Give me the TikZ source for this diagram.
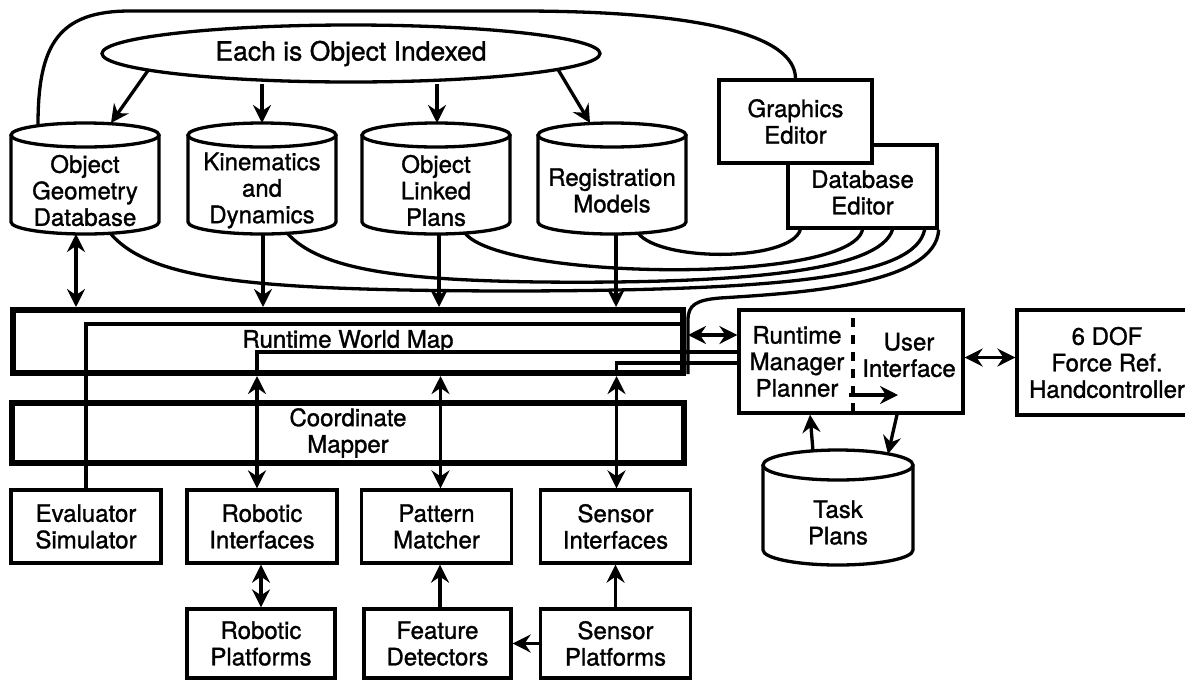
\documentclass[tikz,border=0pt]{standalone}
\usepackage{fontspec}
\setmainfont[FakeBold=1.2,AutoFakeBold=1.2]{TeX Gyre Heros}
\usetikzlibrary{arrows.meta,calc,shapes.geometric}
\newcommand\lbl{\fontsize{24}{26.5}\selectfont\bfseries}
\newcommand\lblbig{\fontsize{26.5}{29}\selectfont\bfseries}
\begin{document}
\begin{tikzpicture}[x=1pt,y=-1pt,
  >={Stealth[length=18pt,width=18pt,inset=6pt]},
  ln/.style={line width=3.3pt},
  arr/.style={ln,->},
  dbl/.style={ln,<->},
  txt/.style={inner sep=0pt,outer sep=0pt,align=center,font=\lbl},
  cyltxt/.style={txt,minimum width=148pt,minimum height=87pt},
  box/.style={draw,line width=3.3pt,inner sep=0pt,align=center,font=\lbl},
  heavybox/.style={draw,line width=6pt,inner sep=0pt,align=center,font=\lbl}]

\clip (0,0) rectangle (1185,681);

% ---- databases (text bodies; outlines drawn below) ----
\node[cyltxt] (ogd) at (85,190.5) {Object\\Geometry\\Database};
\node[cyltxt] (kd)  at (262,190.5) {Kinematics\\and\\Dynamics};
\node[cyltxt] (olp) at (436,190.5) {Object\\Linked\\Plans};
\node[cyltxt] (rm)  at (612,190.5) {Registration\\Models};
\node[cyltxt,minimum width=150pt,minimum height=85pt] (tp) at (838,522.5) {Task\\Plans};

\foreach \n/\rx/\ry in {ogd/74/12,kd/74/12,olp/74/12,rm/74/12,tp/75/15}{
  \draw[ln] ($(\n.north west)+(0,-\ry)$) -- ($(\n.south west)+(0,-\ry)$)
     arc[start angle=180,end angle=0,x radius=\rx,y radius=\ry]
     -- ($(\n.north east)+(0,-\ry)$);
  \draw[ln] ($(\n.north)+(0,-\ry)$) ellipse[x radius=\rx,y radius=\ry];
}

% ---- index ellipse ----
\node[ellipse,draw,ln,minimum width=498pt,minimum height=57pt,inner sep=0pt,
      font=\lblbig] (idx) at (351,53.5) {Each is Object Indexed};

% ---- editors ----
\node[box,minimum width=149pt,minimum height=83pt,
      label={[txt,yshift=-6pt]center:Database\\Editor}] (dbe) at (862.5,186.5) {};
\node[box,fill=white,minimum width=153pt,minimum height=83pt] (ge) at (795.5,121.5) {Graphics\\Editor};

% ---- central blocks ----
\node[heavybox,minimum width=670pt,minimum height=63pt] (rwm) at (348,341.5) {Runtime World Map};
\node[heavybox,minimum width=672pt,minimum height=60pt] (cm) at (348,433) {Coordinate\\Mapper};

\node[box,minimum width=150pt,minimum height=73pt] (ev) at (86,526.5) {Evaluator\\Simulator};
\node[box,minimum width=150pt,minimum height=73pt] (ri) at (262,526.5) {Robotic\\Interfaces};
\node[box,minimum width=150pt,minimum height=73pt] (pm) at (436.5,526.5) {Pattern\\Matcher};
\node[box,minimum width=150pt,minimum height=73pt] (si) at (615.5,526.5) {Sensor\\Interfaces};

\node[box,minimum width=148pt,minimum height=69pt] (rp) at (261,643.5) {Robotic\\Platforms};
\node[box,minimum width=147pt,minimum height=69pt] (fd) at (437.5,643.5) {Feature\\Detectors};
\node[box,minimum width=150pt,minimum height=69pt] (sp) at (615.5,643.5) {Sensor\\Platforms};

% ---- manager / user interface ----
\node[box,minimum width=224pt,minimum height=103pt] (rmp) at (851,361.5) {};
\node[txt] (rmtxt) at (797,361.5) {Runtime\\Manager\\Planner};
\node[txt] (uitxt) at (909,355) {User\\Interface};
\node[box,minimum width=180pt,minimum height=105pt] (dof) at (1107,362.5) {6 DOF\\Force Ref.\\Handcontroller};

\coordinate (sepT) at (853,318);
\coordinate (sepB) at (853,413);
\draw[line width=3.6pt,dash pattern=on 9pt off 8pt] (sepT) -- (sepB);
\coordinate (uiA) at (849,395);
\coordinate (uiB) at (898,395);
\draw[arr] (uiA) -- (uiB);

% ---- level coordinates ----
\coordinate (yEv)  at (0,324);
\coordinate (yDbl) at (0,335);
\coordinate (yRob) at (0,352);
\coordinate (ySen) at (0,363);
\coordinate (xFive) at (688,0);
\coordinate (c5end) at (688,374);

% ---- loop over the top ----
\draw[ln] ($(ogd.north)+(-47,-22)$) .. controls (38,45) and (58,11) .. (130,11)
   -- (520,11) .. controls (700,11) and (795,35) .. (ge.north);

% ---- ellipse to databases ----
\draw[arr] ($(idx.center)+(-203,17)$) -- ($(ogd.north)+(26,-24)$);
\draw[arr] (kd.north |- idx.south) -- ($(kd.north)+(0,-24)$);
\draw[arr] ([xshift=1pt]olp.north |- idx.south) -- ($(olp.north)+(1,-24)$);
\draw[arr] ($(idx.center)+(207,16)$) -- ($(rm.north)+(-22,-24)$);

% ---- database editor links ----
\draw[ln] ($(rm.south)+(26,-1)$) .. controls (660,262) and (790,262) .. ($(dbe.south west)+(14,0)$);
\draw[ln] ($(olp.south)+(29,-1)$) .. controls (500,280) and (850,285) .. (dbe.south);
\draw[ln] ($(kd.south)+(25,-1)$) .. controls (320,270) and (400,280) .. (540,282)
   .. controls (750,284) and (880,270) .. ($(dbe.south)+(30,0)$);
\draw[ln] ($(ogd.south)+(25,-1)$) .. controls (150,280) and (250,290) .. (500,291)
   .. controls (800,291) and (915,275) .. ($(dbe.south east)+(-14,0)$);
\draw[ln] (dbe.south east) .. controls (936,285) and (800,293) .. (720,298)
   .. controls (696,300) and (688,305) .. (688,320) -- (c5end);

% ---- databases to world map ----
\draw[dbl] ([xshift=-9pt]ogd.south) -- ([xshift=-9pt]ogd.south |- rwm.north);
\draw[arr] ([xshift=1pt]kd.south) -- ([xshift=1pt]kd.south |- rwm.north);
\draw[arr] ([xshift=3pt]olp.south) -- ([xshift=3pt]olp.south |- rwm.north);
\draw[arr] ([xshift=4pt]rm.south) -- ([xshift=4pt]rm.south |- rwm.north);

% ---- world map internals and links to the manager ----
\draw[ln] (ev.north) |- (rwm.east |- yEv);
\draw[dbl] (xFive |- yDbl) -- (rmp.west |- yDbl);
\draw[dbl] ([xshift=-5pt]ri.north) -- ([xshift=-5pt]ri.north |- rwm.south);
\draw[ln] ([xshift=-5pt]ri.north |- rwm.south) |- (rmp.west |- yRob);
\draw[dbl] ([xshift=4pt]pm.north) -- ([xshift=4pt]pm.north |- rwm.south);
\draw[dbl] ([xshift=1pt]si.north) -- ([xshift=1pt]si.north |- rwm.south);
\draw[ln] ([xshift=1pt]si.north |- rwm.south) |- (rmp.west |- ySen);

% ---- lower links ----
\draw[dbl] (rp.north |- ri.south) -- (rp.north);
\draw[arr] ([xshift=2.5pt]fd.north) -- ([xshift=2.5pt]fd.north |- pm.south);
\draw[arr] (sp.north) -- (sp.north |- si.south);
\draw[arr] (sp.west) -- (sp.west -| fd.east);

% ---- manager links ----
\draw[dbl] ([yshift=4pt]rmp.east) -- ([yshift=4pt]rmp.east -| dof.west);
\draw[arr] ($(tp.north)+(-25,-29)$) -- ([xshift=-41pt]rmp.south);
\draw[arr] ([xshift=46pt]rmp.south) -- ($(tp.north)+(50,-26)$);

\end{tikzpicture}
\end{document}
